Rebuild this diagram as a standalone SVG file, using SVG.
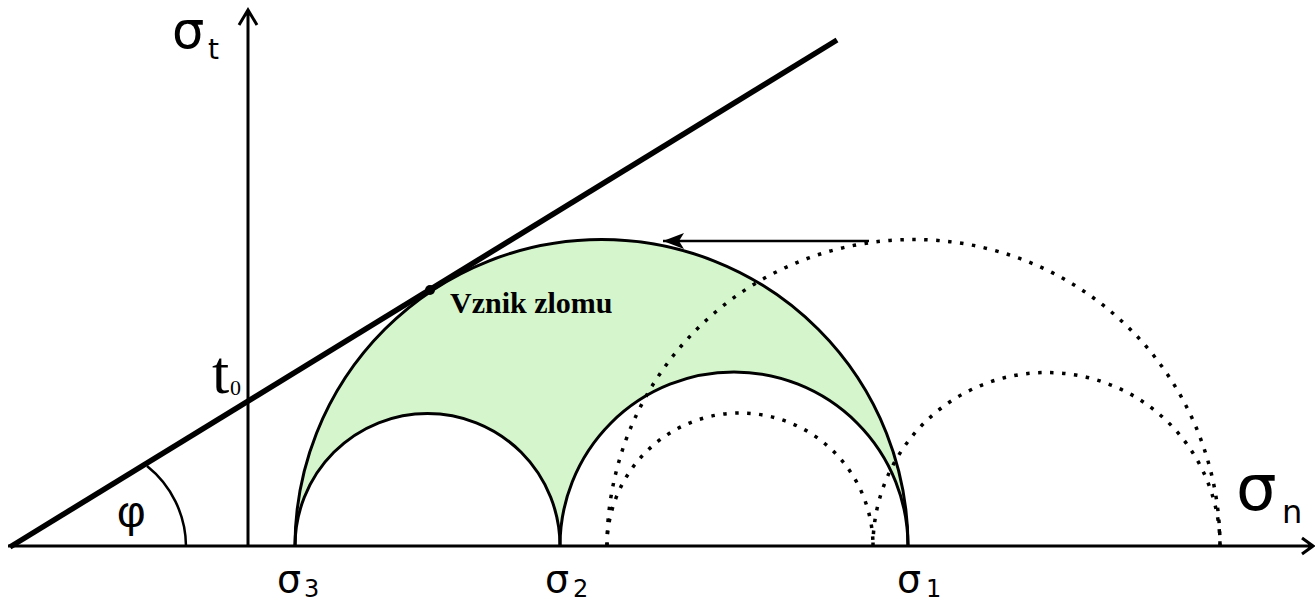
<svg xmlns="http://www.w3.org/2000/svg" width="1315" height="602" viewBox="0 0 1315 602">
<defs>
<style>
.ax{stroke:#000;stroke-width:3;fill:none}
.c{stroke:#000;stroke-width:3;fill:none}
.d{stroke:#000;stroke-width:3.5;fill:none;stroke-dasharray:3.5 8.5}
.s{font-family:"DejaVu Sans","Liberation Sans",sans-serif;fill:#000}
.a{font-family:"Liberation Sans",Arial,sans-serif;fill:#000}
.r{font-family:"Liberation Serif","Times New Roman",serif;fill:#000}
</style>
<marker id="ah" markerWidth="22" markerHeight="16" refX="21" refY="8" orient="auto" markerUnits="userSpaceOnUse"><path d="M0,0 L21,8 L0,16 L5,8 Z" fill="#000"/></marker>
</defs>
<rect width="1315" height="602" fill="#fff"/>
<g id="fill-region">
<path d="M295,546 A306.5,306.5 0 0 1 908,546 A174,174 0 0 0 560,546 A132.5,132.5 0 0 0 295,546 Z" fill="#d5f6cd"/>
</g>
<g id="dotted-circles">
<path class="d" d="M607,546 A306.5,306.5 0 0 1 1220,546"/>
<path class="d" d="M607,546 A133,133 0 0 1 873,546"/>
<path class="d" d="M873,546 A173.5,173.5 0 0 1 1220,546"/>
</g>
<g id="circles">
<path class="c" d="M295,546 A306.5,306.5 0 0 1 908,546"/>
<path class="c" d="M295,546 A132.5,132.5 0 0 1 560,546"/>
<path class="c" d="M560,546 A174,174 0 0 1 908,546"/>
</g>
<g id="connectors">
<path class="ax" d="M8,546 H1312 M1302,538 L1313,546 L1302,554"/>
<path class="ax" d="M248,546 V10 M239,25 L248,10 L257,25"/>
<path d="M10,547 L837,40" stroke="#000" stroke-width="5.5" fill="none"/>
<path d="M186,546 A103.6,103.6 0 0 0 147,466" stroke="#000" stroke-width="2.5" fill="none"/>
<path d="M869,241 H663" stroke="#000" stroke-width="2.5" fill="none" marker-end="url(#ah)"/>
<circle cx="430" cy="290" r="5" fill="#000"/>
</g>
<g id="labels">
<text class="s" x="172" y="48" font-size="51">σ</text>
<text class="s" x="208" y="59" font-size="28">t</text>
<text class="s" x="1236" y="510" font-size="64">σ</text>
<text class="s" x="1282" y="523" font-size="32">n</text>
<text class="s" x="277" y="592" font-size="38">σ</text>
<text class="s" x="304" y="597" font-size="24">3</text>
<text class="s" x="545" y="592" font-size="38">σ</text>
<text class="s" x="573" y="597" font-size="24">2</text>
<text class="s" x="897" y="592" font-size="38">σ</text>
<text class="s" x="926" y="597" font-size="24">1</text>
<text class="r" x="212" y="393" font-size="62">t</text>
<text class="r" x="230" y="395" font-size="22">0</text>
<text class="a" x="117" y="527" font-size="44">φ</text>
<text class="r" x="450" y="313" font-size="30" font-weight="bold">Vznik zlomu</text>
</g>
</svg>
